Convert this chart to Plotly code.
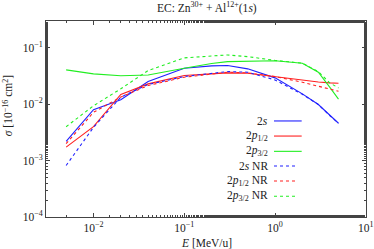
import plotly.graph_objects as go

energy = [0.005, 0.01, 0.02, 0.04, 0.1, 0.2, 0.3, 0.5, 1.0, 2.0, 3.0, 4.0, 5.0]

s2 = [2.2e-3, 8.0e-3, 0.012, 0.0253, 0.0436, 0.048, 0.0486, 0.0425, 0.0294, 0.0153, 0.0099, 0.0063, 0.0046]
p12 = [1.74e-3, 4.0e-3, 0.0149, 0.023, 0.0324, 0.035, 0.036, 0.0355, 0.031, 0.0263, 0.0248, 0.0240, 0.0236]
p32 = [0.0407, 0.0346, 0.032, 0.033, 0.0436, 0.053, 0.057, 0.058, 0.059, 0.0535, 0.037, 0.0201, 0.0123]
s2_nr = [8.2e-4, 3.9e-3, 0.0134, 0.0224, 0.031, 0.0355, 0.038, 0.037, 0.027, 0.015, 0.0099, 0.0063, 0.0046]
p12_nr = [2.0e-3, 7.2e-3, 0.0134, 0.0215, 0.0302, 0.0345, 0.037, 0.036, 0.031, 0.0246, 0.021, 0.0185, 0.017]
p32_nr = [4.0e-3, 9.4e-3, 0.0188, 0.0397, 0.0665, 0.073, 0.075, 0.070, 0.060, 0.0535, 0.038, 0.024, 0.0195]

labels = ["2<i>s</i>", "2<i>p</i><sub>1/2</sub>", "2<i>p</i><sub>3/2</sub>",
          "2<i>s</i> NR", "2<i>p</i><sub>1/2</sub> NR", "2<i>p</i><sub>3/2</sub> NR"]
series = [s2, p12, p32, s2_nr, p12_nr, p32_nr]
colors = ["#2020ff", "#ff2020", "#22ee22", "#2020ff", "#ff2020", "#22ee22"]
dashes = ["solid", "solid", "solid", "3px,3px", "3px,3px", "3px,3px"]

xtick_vals = [0.01, 0.1, 1, 10]
xtick_text = ["10<sup>−2</sup>", "10<sup>−1</sup>", "10<sup>0</sup>", "10<sup>1</sup>"]
ytick_vals = [1e-4, 1e-3, 1e-2, 1e-1]
ytick_text = ["10<sup>−4</sup>", "10<sup>−3</sup>", "10<sup>−2</sup>", "10<sup>−1</sup>"]

FONT = "Liberation Serif"
TXT = "#222"

fig = go.Figure()
for ys, c, d in zip(series, colors, dashes):
    fig.add_trace(go.Scatter(x=energy, y=ys, mode="lines",
                             line=dict(color=c, width=1.1, dash=d),
                             showlegend=False, hoverinfo="skip"))

# manual legend (text left of sample line)
row_y = [0.490, 0.413, 0.335, 0.260, 0.184, 0.106]
for i, (lab, c, d) in enumerate(zip(labels, colors, dashes)):
    fig.add_annotation(xref="paper", yref="paper", x=0.70, y=row_y[i],
                       text=lab, showarrow=False, xanchor="right", yanchor="middle",
                       font=dict(family=FONT, size=11.5, color=TXT))
    x1 = 0.799 if d == "solid" else 0.781
    fig.add_shape(type="line", xref="paper", yref="paper",
                  x0=0.7125, x1=x1, y0=row_y[i], y1=row_y[i],
                  line=dict(color=c, width=1.1, dash=d))

# axis titles
fig.add_annotation(xref="paper", yref="paper", x=0.5, y=-0.133,
                   text="<i>E</i> [MeV/u]", showarrow=False,
                   xanchor="center", yanchor="middle",
                   font=dict(family=FONT, size=11.5, color=TXT))
fig.add_annotation(xref="paper", yref="paper", x=-0.119, y=0.57,
                   text="<i>σ</i> [10<sup>−16</sup> cm<sup>2</sup>]", showarrow=False,
                   textangle=-90, xanchor="center", yanchor="middle",
                   font=dict(family=FONT, size=11.5, color=TXT))

axis_common = dict(
    type="log", showgrid=False, zeroline=False, showline=True,
    linecolor="#444", linewidth=1, mirror="allticks", automargin=False,
    ticks="inside", ticklen=4, tickcolor="#444",
    minor=dict(ticks="inside", ticklen=2, tickcolor="#444", showgrid=False),
    tickfont=dict(family=FONT, size=11.5, color=TXT),
)

fig.update_layout(
    width=374, height=249,
    margin=dict(l=46, r=8, t=21, b=32, autoexpand=False),
    paper_bgcolor="white", plot_bgcolor="white",
    hovermode=False,
    title=dict(text="EC: Zn<sup>30+</sup> + Al<sup>12+</sup>(1<i>s</i>)",
               x=0.553, xanchor="center", y=0.985, yanchor="top",
               font=dict(family=FONT, size=11.5, color=TXT)),
    xaxis=dict(axis_common, range=[-2.523, 1.002], tickvals=xtick_vals, ticktext=xtick_text),
    yaxis=dict(axis_common, range=[-4, -0.523], tickvals=ytick_vals, ticktext=ytick_text),
)

fig.write_html("out.html", config={"displayModeBar": False, "staticPlot": True},
               post_script="document.body.style.margin='0';document.body.style.overflow='hidden';")
